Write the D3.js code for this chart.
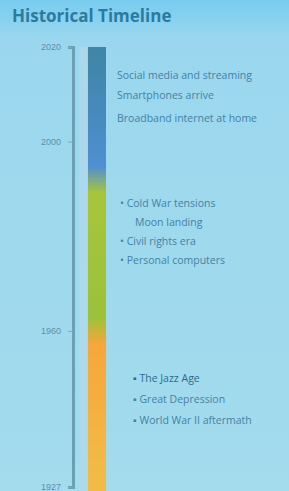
<!DOCTYPE html>
<html>
<head>
<meta charset="utf-8">
<script src="https://cdn.jsdelivr.net/npm/d3@7"></script>
<style>
  body { margin: 0; background: #9fd9ee; }
  svg { display: block; font-family: "Open Sans", sans-serif; }
</style>
</head>
<body>
<div class="graph"></div>
<script>
const w = 289;
const h = 491;

// data
const tickYears = [2020, 2000, 1960, 1927];
const eraNames = ["Digital", "Postwar", "Early"];
const eraStart = [1992, 1960, 1927];
const eraEnd = [2020, 1992, 1960];
const eraColors = [["#3f86a9", "#4e8fd2"], ["#a7c53a", "#9cc23a"], ["#f7a63a", "#f2bb45"]];

const noteYears = [2014, 2009.8, 2005, 1987, 1983, 1979, 1975, 1950, 1945.5, 1941];
const noteText = [
  "Social media and streaming",
  "Smartphones arrive",
  "Broadband internet at home",
  "• Cold War tensions",
  "Moon landing",
  "• Civil rights era",
  "• Personal computers",
  "▪   The Jazz Age",
  "▪  Great Depression",
  "▪  World War II aftermath"
];
const noteIndent = [0, 0, 0, 3, 18, 3, 3, 16, 16, 16];

const y = d3.scaleLinear()
            .domain([1927, 2020])
            .range([487, 47]);

const canvas = d3.select(".graph")
                 .append("svg")
                 .attr("width", w)
                 .attr("height", h);

const defs = canvas.append("defs");

const bg = defs.append("linearGradient")
               .attr("id", "bg")
               .attr("x1", 0).attr("y1", 0).attr("x2", 0).attr("y2", 1);
bg.append("stop").attr("offset", "0%").attr("stop-color", "#78ccef");
bg.append("stop").attr("offset", "8%").attr("stop-color", "#9ad7ee");
bg.append("stop").attr("offset", "100%").attr("stop-color", "#a4dbed");

canvas.append("rect")
      .attr("width", w)
      .attr("height", h)
      .attr("fill", "url(#bg)");

// title
canvas.append("text")
      .attr("x", 12)
      .attr("y", 22)
      .attr("font-size", 17)
      .attr("font-weight", "bold")
      .attr("fill", "#2b7aa2")
      .text("Historical Timeline");

// axis
const axis = d3.axisLeft(y)
               .tickValues(tickYears)
               .tickSize(5)
               .tickFormat(d3.format("d"));

const axisG = canvas.append("g")
                    .attr("transform", `translate(${73}, 0)`)
                    .call(axis);

axisG.select(".domain")
     .attr("stroke", "#6c9fb3")
     .attr("stroke-width", 3);
axisG.selectAll(".tick line").attr("stroke", "#7aa9bb");
axisG.selectAll(".tick text")
     .attr("fill", "#5d8fa8")
     .attr("font-size", 9)
     .attr("x", -12);

// era bar gradient
const grad = defs.append("linearGradient")
                 .attr("id", "eras")
                 .attr("gradientUnits", "userSpaceOnUse")
                 .attr("x1", 0).attr("x2", 0)
                 .attr("y1", y(2020)).attr("y2", y(1927));

const span = y(1927) - y(2020);
eraNames.forEach(function(name, i) {
  grad.append("stop")
      .attr("offset", (y(eraEnd[i]) - y(2020)) / span + 0.03)
      .attr("stop-color", eraColors[i][0]);
  grad.append("stop")
      .attr("offset", (y(eraStart[i]) - y(2020)) / span - 0.03)
      .attr("stop-color", eraColors[i][1]);
});

canvas.append("rect")
      .attr("x", 79)
      .attr("y", y(2020))
      .attr("width", 8)
      .attr("height", h - y(2020))
      .attr("fill", "#b2d9ea")
      .attr("opacity", 0.7);

canvas.append("rect")
      .attr("x", 88)
      .attr("y", y(2020))
      .attr("width", 18)
      .attr("height", h - y(2020))
      .attr("fill", "url(#eras)");

// notes
canvas.append("g")
      .attr("class", "notes")
      .selectAll("text")
      .data(noteText)
      .enter()
      .append("text")
      .attr("x", function(d, i) { return 117 + noteIndent[i]; })
      .attr("y", function(d, i) { return y(noteYears[i]); })
      .attr("dy", "0.35em")
      .attr("font-size", 10.5)
      .attr("fill", function(d, i) { return i === 7 ? "#2c6b90" : "#4581a5"; })
      .text(function(d) { return d; });
</script>
</body>
</html>
